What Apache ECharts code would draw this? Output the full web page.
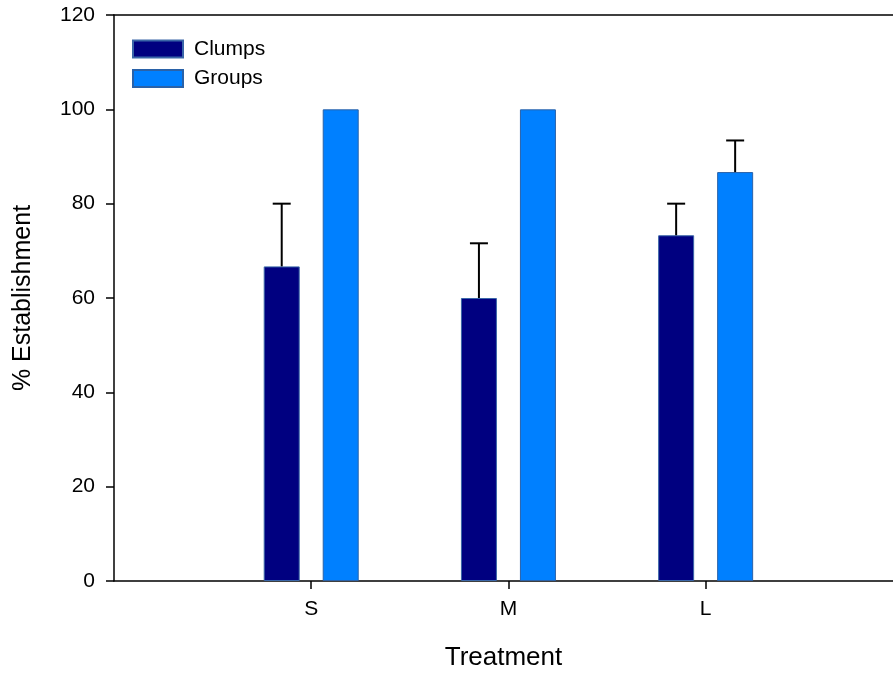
<!DOCTYPE html>
<html style="height: 100%">

<head>
    <meta charset="utf-8">
    <title>% Establishment by treatment</title>
    <script src="https://cdn.jsdelivr.net/npm/echarts@6/dist/echarts.min.js"></script>
</head>

<body style="margin: 0; height: 100%">
    <div id="main" style="width: 893px; height: 677px"></div>

    <script>
        // data
        const treatments = ['S', 'M', 'L'];
        const clumps = [66.7, 60.0, 73.3];
        const clumpsErr = [13.3, 11.6, 6.7];
        const groups = [100, 100, 86.7];
        const groupsErr = [0, 0, 6.7];
        const yTicks = [0, 20, 40, 60, 80, 100, 120];

        const chart = echarts.init(document.getElementById('main'));

        const barWidth = 36;
        const barGapPx = 23;
        const half = (barWidth + barGapPx) / 2;

        // x position of each treatment on the value axis: 1, 2, 3
        const xPos = treatments.map((t, i) => i + 1);

        // upward error bar with a cap, shifted onto its bar
        function errorSeries(name, values, errs, shift) {
            return {
                name: name + ' err',
                type: 'custom',
                z: 5,
                data: xPos.map((x, i) => [x, values[i], errs[i]]),
                renderItem: function (params, api) {
                    const err = api.value(2);
                    if (!err) return null;
                    const base = api.coord([api.value(0), api.value(1)]);
                    const top = api.coord([api.value(0), api.value(1) + err]);
                    const cx = base[0] + shift;
                    return {
                        type: 'group',
                        children: [{
                            type: 'line',
                            shape: { x1: cx, y1: base[1], x2: cx, y2: top[1] },
                            style: { stroke: '#000', lineWidth: 2 }
                        }, {
                            type: 'line',
                            shape: { x1: cx - 9, y1: top[1], x2: cx + 9, y2: top[1] },
                            style: { stroke: '#000', lineWidth: 2 }
                        }]
                    };
                }
            };
        }

        chart.setOption({
            animation: false,
            textStyle: { fontFamily: 'Liberation Sans' },
            grid: { left: 114, right: 0, top: 15, bottom: 96 },
            legend: {
                left: 132,
                top: 38,
                padding: 0,
                orient: 'vertical',
                icon: 'rect',
                itemWidth: 50,
                itemHeight: 17,
                itemGap: 7.5,
                data: ['Clumps', 'Groups'],
                textStyle: { fontSize: 21, lineHeight: 22, color: '#000', padding: [0, 0, 0, 6] }
            },
            xAxis: [{
                type: 'value',
                min: 0,
                max: 3.95,
                interval: 1,
                name: 'Treatment',
                nameLocation: 'middle',
                nameGap: 64,
                nameTextStyle: { fontSize: 26, color: '#000' },
                axisLine: { lineStyle: { color: '#000', width: 1.5 } },
                axisTick: {
                    length: 8,
                    customValues: xPos,
                    lineStyle: { color: '#000', width: 1.5 }
                },
                axisLabel: {
                    customValues: xPos,
                    margin: 18,
                    fontSize: 21,
                    color: '#000',
                    formatter: v => treatments[Math.round(v) - 1] || ''
                },
                splitLine: { show: false }
            }, {
                type: 'value',
                position: 'top',
                min: 0,
                max: 3.95,
                axisLine: { show: true, lineStyle: { color: '#000', width: 1.5 } },
                axisTick: { show: false },
                axisLabel: { show: false },
                splitLine: { show: false }
            }],
            yAxis: {
                type: 'value',
                min: yTicks[0],
                max: yTicks[yTicks.length - 1],
                interval: 20,
                name: '% Establishment',
                nameLocation: 'middle',
                nameGap: 78,
                nameTextStyle: { fontSize: 25, color: '#000' },
                axisLine: { show: true, lineStyle: { color: '#000', width: 1.5 } },
                axisTick: { show: true, length: 8, lineStyle: { color: '#000', width: 1.5 } },
                axisLabel: { margin: 19, fontSize: 21, color: '#000' },
                splitLine: { show: false }
            },
            series: [{
                name: 'Clumps',
                type: 'bar',
                barWidth: barWidth,
                barGap: (barGapPx / barWidth * 100) + '%',
                itemStyle: { color: '#000080', borderColor: '#3a66a8', borderWidth: 1 },
                data: xPos.map((x, i) => [x, clumps[i]])
            }, {
                name: 'Groups',
                type: 'bar',
                barWidth: barWidth,
                itemStyle: { color: '#0080ff', borderColor: '#2a62a8', borderWidth: 1 },
                data: xPos.map((x, i) => [x, groups[i]])
            },
            errorSeries('Clumps', clumps, clumpsErr, -half),
            errorSeries('Groups', groups, groupsErr, half)
            ]
        });
    </script>
</body>

</html>
